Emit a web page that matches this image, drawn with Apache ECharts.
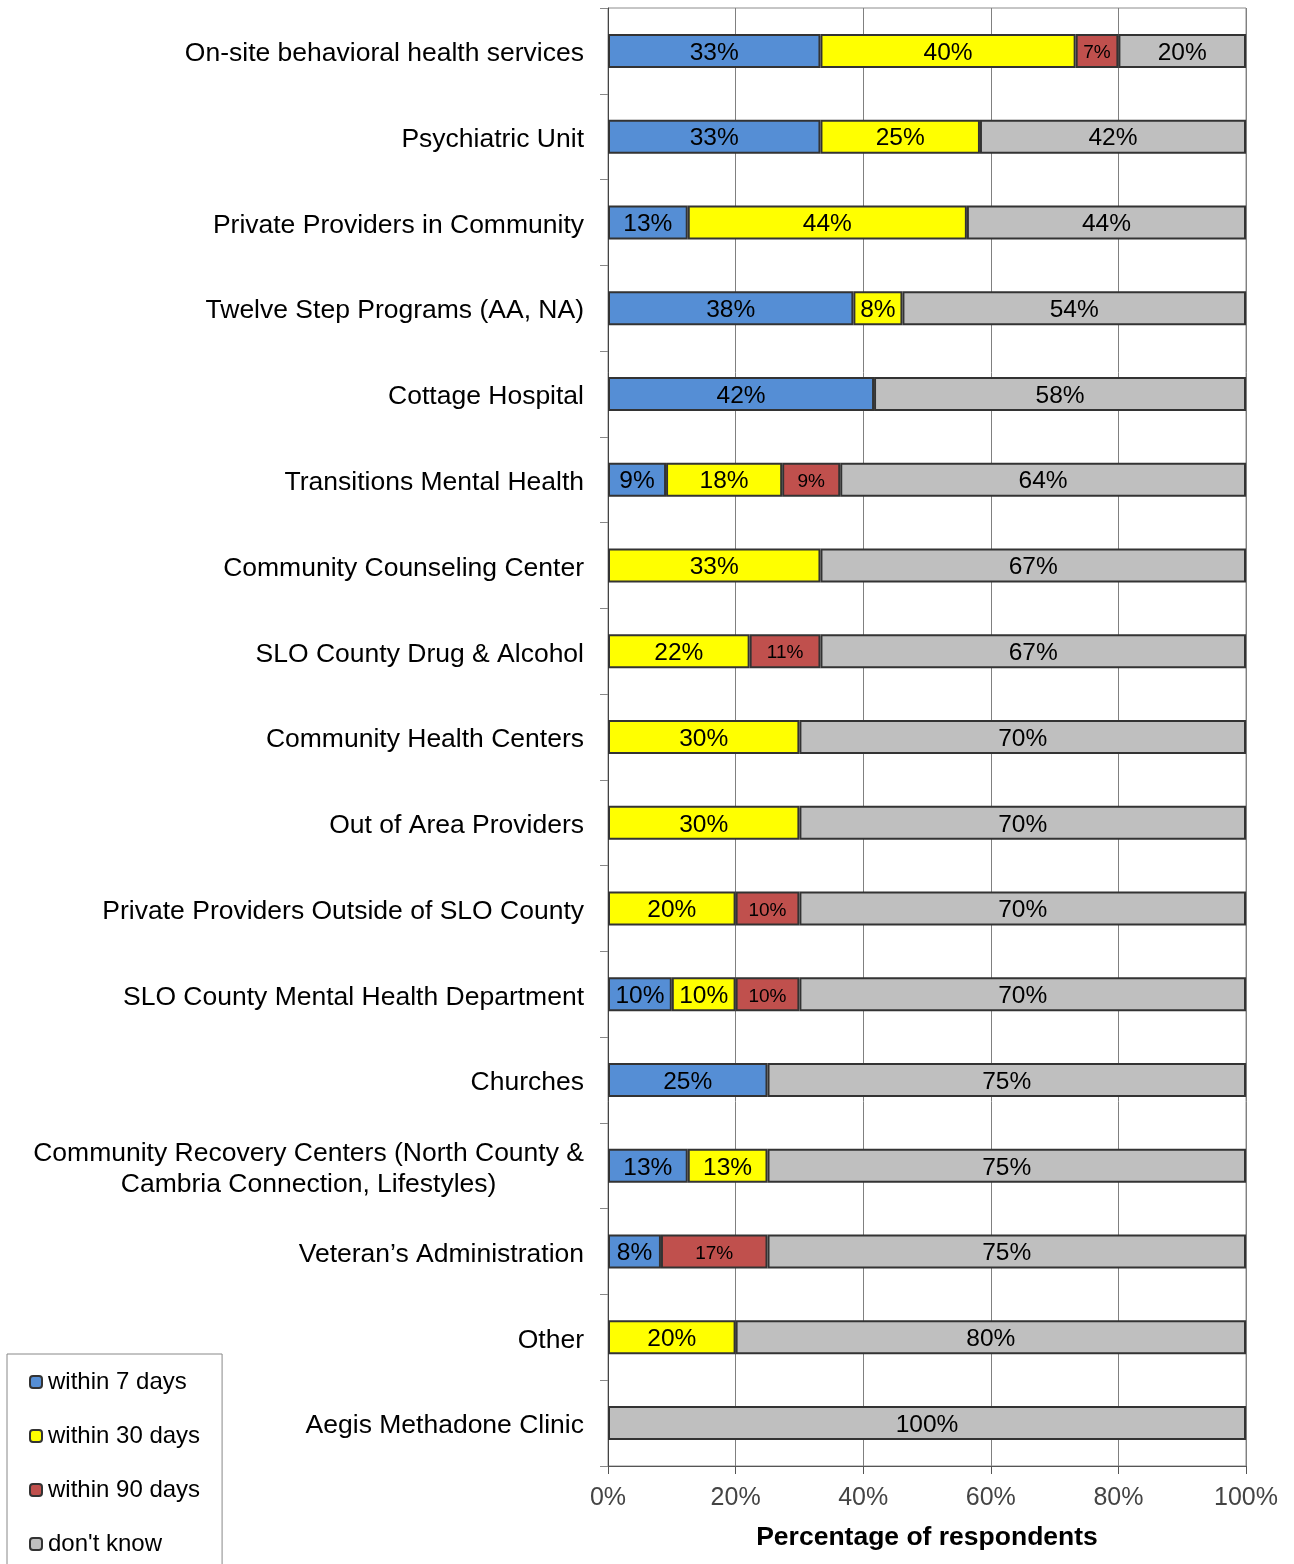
<!DOCTYPE html>
<html>
<head>
<meta charset="utf-8">
<script src="https://cdn.jsdelivr.net/npm/echarts@6/dist/echarts.min.js"></script>
<style>
  html, body { margin: 0; padding: 0; background: #fff; }
  #chart { width: 1294px; height: 1564px; }
</style>
</head>
<body>
<div id="chart"></div>
<script>
const categories = [
    'On-site behavioral health services',
    'Psychiatric Unit',
    'Private Providers in Community',
    'Twelve Step Programs (AA, NA)',
    'Cottage Hospital',
    'Transitions Mental Health',
    'Community Counseling Center',
    'SLO County Drug & Alcohol',
    'Community Health Centers',
    'Out of Area Providers',
    'Private Providers Outside of SLO County',
    'SLO County Mental Health Department',
    'Churches',
    'Community Recovery Centers (North County &\nCambria Connection, Lifestyles)',
    'Veteran\u2019s Administration',
    'Other',
    'Aegis Methadone Clinic'
];

// percent of respondents (labels are rounded)
const within7 = [33.3, 33.3, 12.5, 38.46, 41.7, 9.1, null, null, null, null, null, 10, 25, 12.5, 8.3, null, null];
const within30 = [40, 25, 43.75, 7.69, null, 18.2, 33.3, 22.2, 30, 30, 20, 10, null, 12.5, null, 20, null];
const within90 = [6.7, null, null, null, null, 9.1, null, 11.1, null, null, 10, 10, null, null, 16.7, null, null];
const dontKnow = [20, 41.7, 43.75, 53.85, 58.3, 63.6, 66.7, 66.7, 70, 70, 70, 70, 75, 75, 75, 80, 100];

const seriesNames = ['within 7 days', 'within 30 days', 'within 90 days', "don't know"];
const seriesColors = ['#558ed5', '#ffff00', '#c0504d', '#bfbfbf'];
const seriesData = [within7, within30, within90, dontKnow];

const font = "'Liberation Sans', Arial, sans-serif";

const chart = echarts.init(document.getElementById('chart'));

const series = seriesData.map((data, i) => ({
    name: seriesNames[i],
    type: 'bar',
    stack: 'total',
    barWidth: 34,
    data: data,
    itemStyle: {
        color: seriesColors[i],
        borderColor: '#333',
        borderWidth: 2
    },
    label: {
        show: true,
        position: 'inside',
        color: '#000',
        fontFamily: font,
        fontSize: i === 2 ? 19 : 24.5,
        offset: [0, 2],
        formatter: p => (p.value ? Math.round(p.value) + '%' : '')
    },
    emphasis: { disabled: true }
}));

chart.setOption({
    animation: false,
    textStyle: { fontFamily: font },
    grid: {
        left: 608,
        right: 48,
        top: 8,
        bottom: 98,
        show: true,
        borderColor: '#8c8c8c',
        borderWidth: 1
    },
    legend: {
        orient: 'vertical',
        left: 7,
        top: 1354,
        height: 320,
        padding: [16, 22, 40, 22],
        itemGap: 30,
        itemWidth: 12,
        itemHeight: 12,
        borderColor: '#888',
        borderWidth: 1,
        textStyle: { fontSize: 24, lineHeight: 24, color: '#000', fontFamily: font, padding: [0, 0, 0, 1] },
        data: seriesNames
    },
    xAxis: {
        type: 'value',
        min: 0,
        max: 100,
        interval: 20,
        name: 'Percentage of respondents',
        nameLocation: 'middle',
        nameGap: 58,
        nameTextStyle: { fontSize: 26.5, fontWeight: 'bold', color: '#000', fontFamily: font },
        axisLine: { show: true, lineStyle: { color: '#555', width: 1 } },
        axisTick: { show: true, length: 8, lineStyle: { color: '#555' } },
        axisLabel: {
            fontSize: 25,
            color: '#444',
            margin: 20,
            fontFamily: font,
            formatter: '{value}%'
        },
        splitLine: { show: true, lineStyle: { color: '#808080', width: 1 } }
    },
    yAxis: {
        type: 'category',
        inverse: true,
        data: categories,
        axisLine: { show: true, lineStyle: { color: '#444', width: 1 } },
        axisTick: { show: true, length: 8, lineStyle: { color: '#888' } },
        axisLabel: {
            fontSize: 26.5,
            color: '#000',
            margin: 24,
            lineHeight: 31,
            padding: [6, 0, 0, 0],
            fontFamily: font,
            // wrapped label lines are centred on each other, as in the original
            formatter: v => v.split('\n').map(s => '{c|' + s + '}').join('\n'),
            rich: {
                c: { align: 'center', fontSize: 26.5, lineHeight: 31, color: '#000', fontFamily: font }
            }
        }
    },
    series: series
});
</script>
</body>
</html>
